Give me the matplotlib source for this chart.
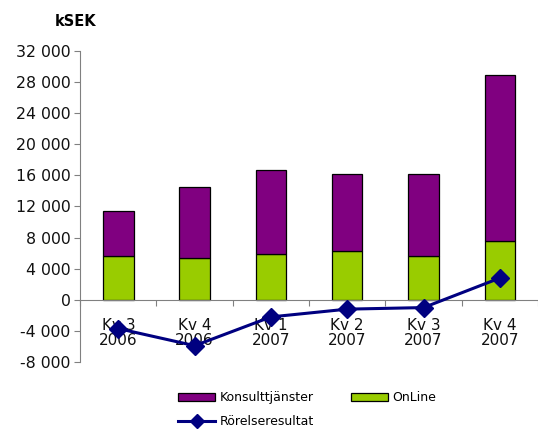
import matplotlib.pyplot as plt
import numpy as np

plt.rcParams['font.family'] = ['DejaVu Sans']

kvartal = ['Kv 3\n2006', 'Kv 4\n2006', 'Kv 1\n2007', 'Kv 2\n2007', 'Kv 3\n2007', 'Kv 4\n2007']
online = [5650, 5400, 5900, 6300, 5650, 7600]
konsult_total = [11400, 14500, 16700, 16200, 16200, 28900]
konsult = [t - o for t, o in zip(konsult_total, online)]
rorelseresultat = [-3700, -5900, -2200, -1200, -1000, 2800]

fig = plt.figure(figsize=(5.38, 4.32), dpi=100)
ax = fig.add_axes([0.149, 0.162, 0.851, 0.72])

x = np.arange(len(kvartal))
w = 0.4
b1 = ax.bar(x, online, w, color='#99CC00', edgecolor='black', linewidth=0.9, label='OnLine', zorder=2)
b2 = ax.bar(x, konsult, w, bottom=online, color='#800080', edgecolor='black', linewidth=0.9,
            label='Konsulttjänster', zorder=2)
l1, = ax.plot(x, rorelseresultat, color='#000080', linewidth=2.2, marker='D', markersize=9.5,
              label='Rörelseresultat', zorder=3)

ax.set_xlim(-0.5, len(kvartal) - 0.5)
ax.set_ylim(-8000, 32000)
yt = np.arange(-8000, 32001, 4000)
ax.set_yticks(yt)
ax.set_yticklabels([f'{v:,}'.replace(',', ' ') for v in yt], fontsize=11.3, color='#111111')

for s in ['top', 'right']:
    ax.spines[s].set_visible(False)
ax.spines['left'].set_color('#808080')
ax.spines['bottom'].set_position(('data', 0))
ax.spines['bottom'].set_color('#808080')
ax.tick_params(axis='y', direction='out', length=4, color='#808080', pad=3)

ax.set_xticks(np.arange(-0.5, len(kvartal), 1.0))
ax.set_xticklabels([])
ax.tick_params(axis='x', direction='out', length=4, color='#808080')
for xi, lab in zip(x, kvartal):
    ax.text(xi, -2300, lab, ha='center', va='top', fontsize=11, color='#111111',
            linespacing=1.05, zorder=1)

fig.text(0.102, 0.951, 'kSEK', fontsize=10.5, fontweight='bold', ha='left', va='center')

leg = fig.legend([b2, l1, b1], ['Konsulttjänster', 'Rörelseresultat', 'OnLine'],
                 loc='upper left', bbox_to_anchor=(0.322, 0.106), ncol=2, frameon=False,
                 fontsize=9, handlelength=2.96, handleheight=0.64, columnspacing=2.9,
                 handletextpad=0.4, labelspacing=0.9, borderaxespad=0, markerscale=0.7)

fig.savefig('out.png', dpi=100)
